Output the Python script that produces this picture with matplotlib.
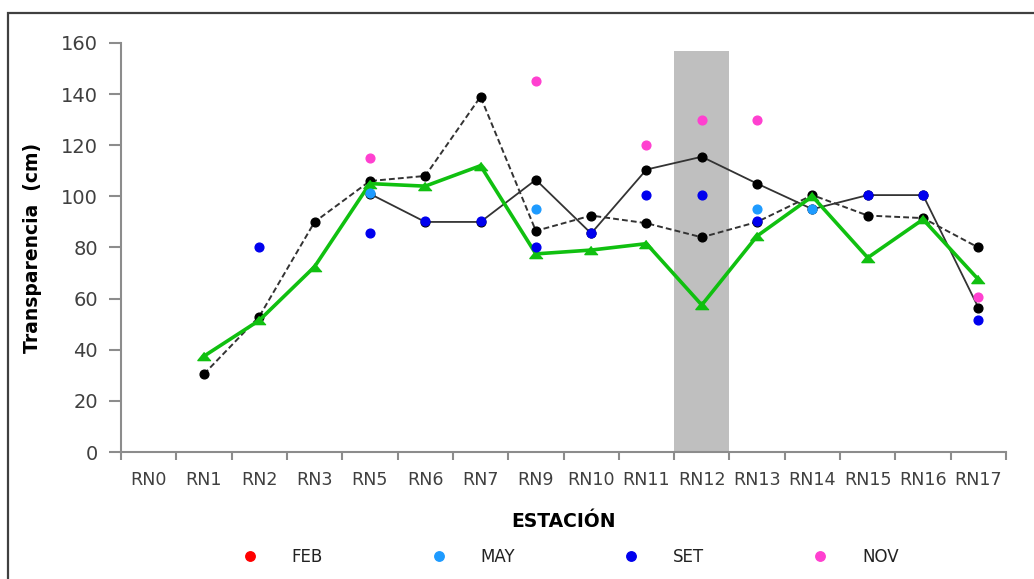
import numpy as np
import matplotlib
matplotlib.use("Agg")
import matplotlib.pyplot as plt
from matplotlib.patches import Rectangle
from matplotlib.lines import Line2D

plt.rcParams['font.family'] = ['DejaVu Sans']

stations = ["RN0", "RN1", "RN2", "RN3", "RN5", "RN6", "RN7", "RN9", "RN10",
            "RN11", "RN12", "RN13", "RN14", "RN15", "RN16", "RN17"]
nan = np.nan

# dashed black series
serie_dashed = [nan, 30.5, 53, 90, 106, 108, 139, 86.5, 92.5, 89.5, 84, 90, 100.5, 92.5, 91.5, 80]
# solid black series
serie_solid = [nan, nan, nan, nan, 101, 90, 90, 106.5, 85.5, 110.5, 115.5, 105, 95, 100.5, 100.5, 56.5]
# green series (triangles)
serie_green = [nan, 37.5, 51.5, 72.5, 105, 104, 112, 77.5, 79, 81.5, 57.5, 84.5, 100, 76, 91, 67.5]

feb = [nan] * 16
may = [nan, nan, nan, nan, 101.5, nan, nan, 95, nan, nan, nan, 95, 95, nan, nan, nan]
set_ = [nan, nan, 80, nan, 85.5, 90.5, 90.5, 80, 85.5, 100.5, 100.5, 90.5, nan, 100.5, 100.5, 51.5]
nov = [nan, nan, nan, nan, 115, nan, nan, 145, nan, 120, 130, 130, nan, nan, nan, 60.5]

highlight_station = "RN12"
highlight_height = 157

W, H = 1034, 579
fig = plt.figure(figsize=(W / 100, H / 100), dpi=100)
ax = fig.add_axes([121 / W, 1 - 452 / H, (1006 - 121) / W, (452 - 43) / H])

x = np.arange(len(stations))
hi = stations.index(highlight_station)
ax.bar([hi], [highlight_height], width=1.0, color="#BFBFBF", zorder=1)

tri = [(0, 0.62), (-1, -0.62), (1, -0.62)]

ax.plot(x, serie_dashed, color="#333333", lw=1.4, ls=(0, (3, 1.6)), marker="o",
        ms=6.3, mfc="black", mec="black", zorder=3)
ax.plot(x, serie_solid, color="#333333", lw=1.3, ls="-", marker="o",
        ms=6.3, mfc="black", mec="black", zorder=3)
ax.plot(x, serie_green, color="#10C010", lw=2.6, marker=tri, ms=9.5,
        mfc="#10C010", mec="#10C010", zorder=4)

cols = {"FEB": "#FF0000", "MAY": "#1E9BFF", "SET": "#0000EE", "NOV": "#FF40D0"}
for name, vals in [("FEB", feb), ("MAY", may), ("SET", set_), ("NOV", nov)]:
    ax.plot(x, vals, ls="none", marker="o", ms=6.3, color=cols[name], zorder=5)

ax.set_xlim(-0.5, len(stations) - 0.5)
ax.set_ylim(0, 160)
ax.set_yticks(np.arange(0, 161, 20))
ax.set_xticks(x)
ax.set_xticklabels(stations)
ax.set_xticks(np.arange(-0.5, len(stations), 1.0), minor=True)
ax.tick_params(axis="x", which="major", length=0, pad=14, labelsize=12.6, labelcolor="#404040")
ax.tick_params(axis="x", which="minor", length=6, width=1.5, color="#8C8C8C", direction="out")
ax.tick_params(axis="y", length=8.5, width=1.5, color="#8C8C8C", labelsize=14, labelcolor="#404040", pad=8)

for s in ["top", "right"]:
    ax.spines[s].set_visible(False)
for s in ["left", "bottom"]:
    ax.spines[s].set_color("#8C8C8C")
    ax.spines[s].set_linewidth(1.5)

ax.set_ylabel("Transparencia  (cm)", fontsize=13.5, fontweight="bold", color="black", labelpad=14)
ax.set_xlabel("ESTACIÓN", fontsize=13.5, fontweight="bold", color="black", labelpad=16)

handles = [Line2D([], [], ls="none", marker="o", ms=6.8, color=cols[n]) for n in cols]
fig.legend(handles, list(cols.keys()), loc="center", bbox_to_anchor=(566 / W, 1 - 557 / H),
           ncol=4, frameon=False, fontsize=12, handlelength=2, handletextpad=1.52,
           columnspacing=5.95, labelcolor="#222222")

fig.add_artist(Rectangle((8 / W, -0.2), 1.2, 1 - 13 / H + 0.2, transform=fig.transFigure,
                         fill=False, ec="#404040", lw=1.6))

fig.savefig("out.png", dpi=100)
